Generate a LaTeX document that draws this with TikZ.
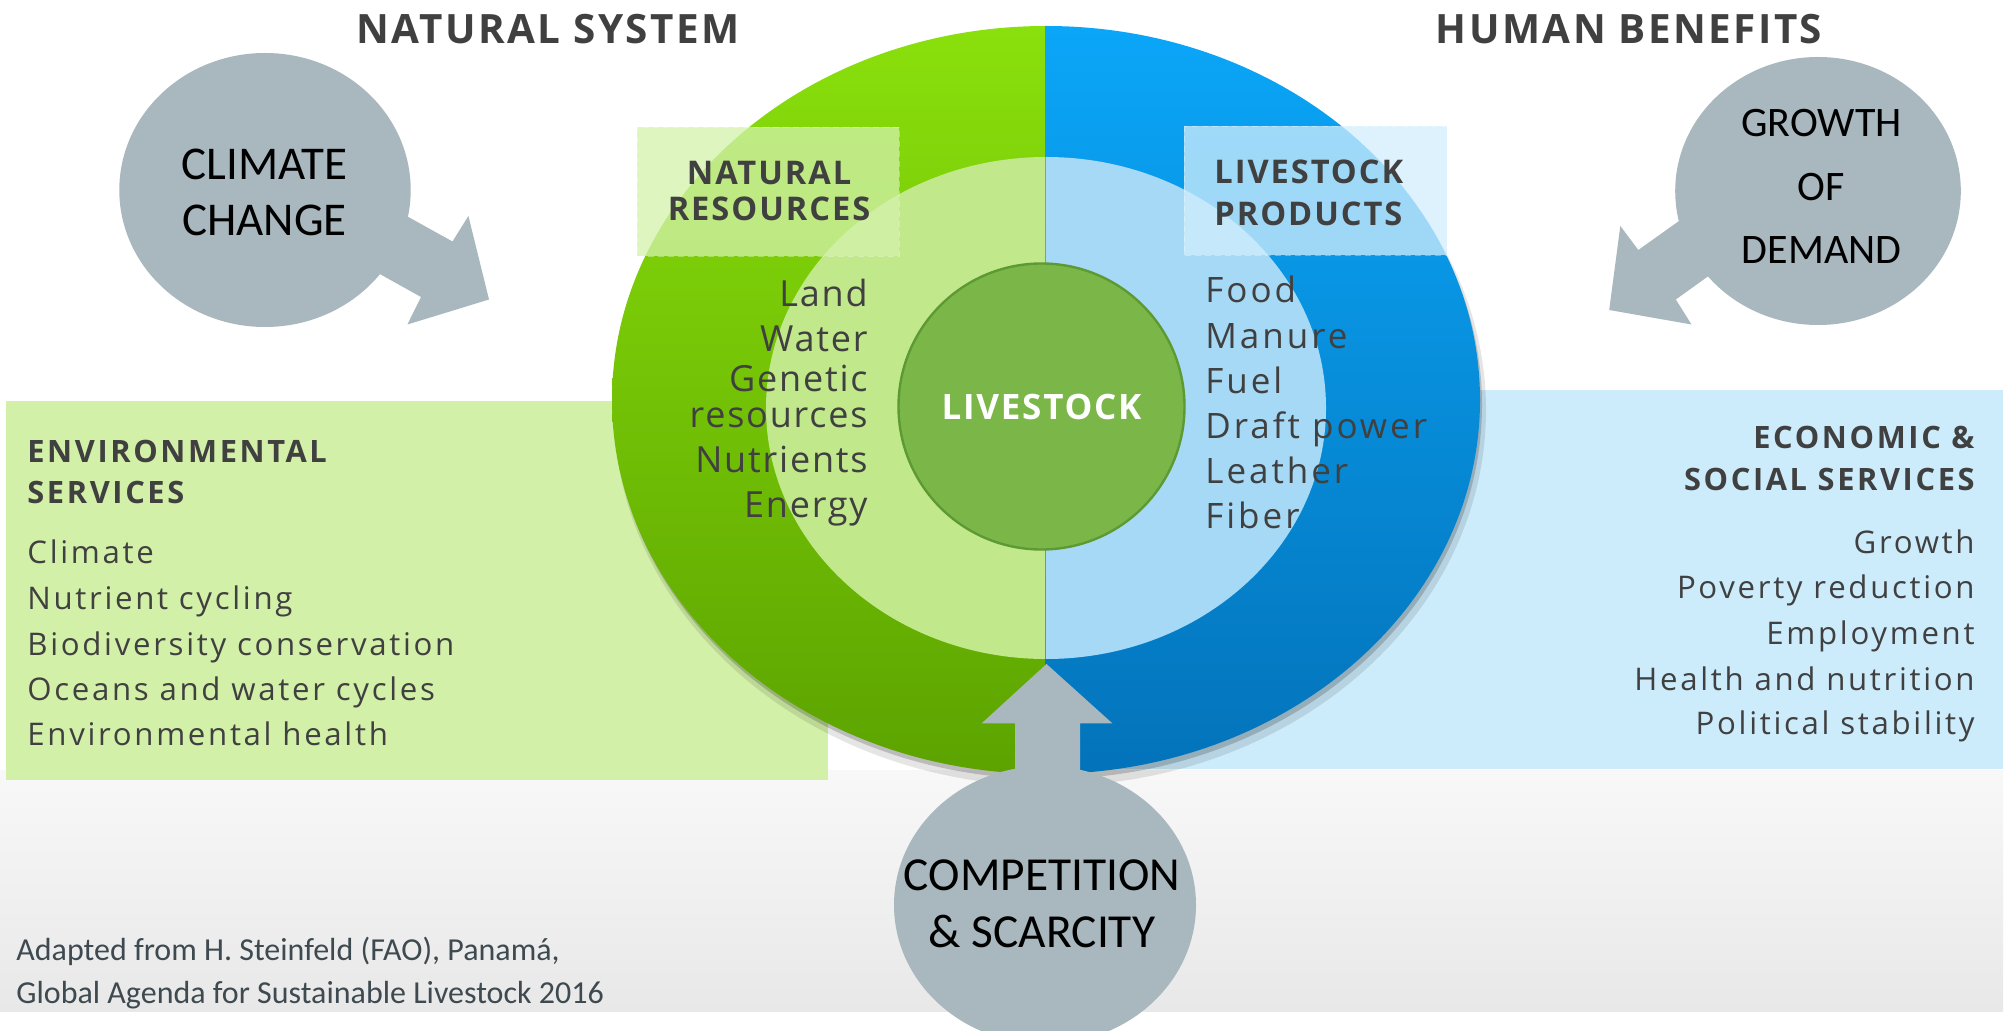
\documentclass[tikz,border=0pt]{standalone}
\usepackage{fontspec}
\setmainfont{Open Sans}
\newfontfamily\bubblefont{Carlito}
\newfontfamily\listfont[LetterSpace=8.6]{Open Sans}
\newfontfamily\ringfont[LetterSpace=5]{Open Sans}
\newfontfamily\prodfont[LetterSpace=8.5]{Open Sans}
\newfontfamily\headfont[LetterSpace=8.5]{Open Sans}
\newfontfamily\tagfont[LetterSpace=6]{Open Sans}
\newfontfamily\bigheadfont[LetterSpace=6]{Open Sans}
\usetikzlibrary{positioning,shapes.geometric}

\definecolor{txtgray}{HTML}{404040}
\definecolor{creditgray}{HTML}{3E4A50}
\definecolor{bubblegray}{HTML}{A8B8BE}
\definecolor{bandtop}{HTML}{F8F8F8}
\definecolor{bandbot}{HTML}{E8E8E8}
\definecolor{grtop}{HTML}{8AE00C}
\definecolor{grbot}{HTML}{5CA300}
\definecolor{bltop}{HTML}{0BA6F8}
\definecolor{blbot}{HTML}{0373BA}
\definecolor{ringgreen}{HTML}{C1E98B}
\definecolor{ringblue}{HTML}{A6D9F6}
\definecolor{hubgreen}{HTML}{7AB648}
\definecolor{hubedge}{HTML}{5E9A34}
\definecolor{envgreen}{HTML}{D2F0A8}
\definecolor{ecoblue}{HTML}{CCECFC}
\definecolor{nrfill}{HTML}{D4F2AC}
\definecolor{lpfill}{HTML}{D2EEFD}

\tikzset{
  headline/.style={font=\bigheadfont\bfseries\fontsize{20.2}{24}\selectfont, text=txtgray, inner sep=0, anchor=base},
  bubble/.style={ellipse, fill=bubblegray, inner sep=0},
  bubbletext/.style={inner sep=0, align=center, text=black},
  taghead/.style={font=\tagfont\bfseries\fontsize{16.3}{17.85}\selectfont, text=txtgray, inner sep=0, align=center},
  svchead/.style={font=\headfont\bfseries\fontsize{15.4}{20}\selectfont, text=txtgray, inner sep=0},
  svcitem/.style={font=\listfont\fontsize{15.6}{20}\selectfont, text=txtgray, inner sep=0},
  ringitem/.style={font=\ringfont\fontsize{18}{22}\selectfont, text=txtgray, inner sep=0},
  credit/.style={font=\bubblefont\fontsize{16}{20}\selectfont, text=creditgray, inner sep=0, anchor=base west}
}

\begin{document}
\begin{tikzpicture}[x=0.5pt,y=0.5pt]
    \useasboundingbox (0,0) rectangle (2012,-1031);
    \fill[white] (0,0) rectangle (2012,-1031);

    % Grey footer band
    \shade[top color=bandtop, bottom color=bandbot] (0,-770) rectangle (2003,-1011);

    % Service panels behind the circle
    \fill[envgreen] (6,-401) rectangle (828,-780);
    \fill[ecoblue] (1080,-390) rectangle (2003,-769);

    % Shadow of the big circle
    \fill[black, opacity=0.10] (1050,-410) ellipse [x radius=436, y radius=376];
    \fill[black, opacity=0.18] (1048,-405) ellipse [x radius=434, y radius=374];

    % Outer ring: natural half and human half
    \begin{scope}
        \clip (600,0) rectangle (1046,-800);
        \shade[top color=grtop, bottom color=grbot] (1046,-400) ellipse [x radius=434, y radius=374];
        \fill[ringgreen] (1046,-408) ellipse [x radius=280, y radius=251];
    \end{scope}
    \begin{scope}
        \clip (1045.5,0) rectangle (1500,-800);
        \shade[top color=bltop, bottom color=blbot] (1046,-400) ellipse [x radius=434, y radius=374];
        \fill[ringblue] (1046,-408) ellipse [x radius=280, y radius=251];
    \end{scope}

    % Tag boxes
    \fill[nrfill, opacity=0.75] (637,-127) rectangle (899,-256);
    \draw[white, densely dashed, opacity=0.35, line width=0.3pt] (637,-127) rectangle (899,-256);
    \fill[lpfill, opacity=0.75] (1184,-126) rectangle (1447,-255);
    \draw[white, densely dashed, opacity=0.35, line width=0.3pt] (1184,-126) rectangle (1447,-255);
    \node[taghead] (nrtag) at (769,-191) {NATURAL\\RESOURCES};
    \node[taghead, align=left, anchor=west, font=\tagfont\bfseries\fontsize{16.3}{20.75}\selectfont] (lptag) at (1214,-193) {LIVESTOCK\\PRODUCTS};

    % Centre
    \node[circle, fill=hubgreen, draw=hubedge, line width=1.2pt, minimum size=143pt, inner sep=0,
          text=white, font=\ringfont\bfseries\fontsize{17.5}{20}\selectfont] (livestock) at (1041.5,-406.5) {LIVESTOCK};

    % Ring contents
    \foreach \txt/\yy [count=\i] in {Land/307, Water/352, Genetic/392, resources/428, Nutrients/473, Energy/517}
        \node[ringitem, anchor=base east] (res\i) at (868,-\yy) {\txt};
    \foreach \txt/\yy [count=\i] in {Food/303, Manure/349, Fuel/394, Draft power/439, Leather/484, Fiber/529}
        \node[ringitem, anchor=base west, font=\prodfont\fontsize{17.5}{22}\selectfont] (prod\i) at (1205,-\yy) {\txt};

    % Titles
    \node[headline] (natsys) at (548,-44) {NATURAL SYSTEM};
    \node[headline] (humben) at (1629,-44) {HUMAN BENEFITS};

    % Environmental services
    \node[svchead, anchor=base west] (envh1) at (27,-463) {ENVIRONMENTAL};
    \node[svchead, anchor=base west] (envh2) at (27,-504) {SERVICES};
    \foreach \txt/\yy [count=\i] in {Climate/564, Nutrient cycling/610, Biodiversity conservation/655, Oceans and water cycles/700, Environmental health/745}
        \node[svcitem, anchor=base west] (env\i) at (27,-\yy) {\txt};

    % Economic and social services
    \node[svchead, anchor=base east] (ecoh1) at (1975,-449) {ECONOMIC \&};
    \node[svchead, anchor=base east] (ecoh2) at (1975,-491) {SOCIAL SERVICES};
    \foreach \txt/\yy [count=\i] in {Growth/553, Poverty reduction/598, Employment/644, Health and nutrition/690, Political stability/734}
        \node[svcitem, anchor=base east] (eco\i) at (1975,-\yy) {\txt};

    % Drivers
    \fill[bubblegray] (373.7,-197.8) -- (408.7,-217.2) -- (452.5,-241.5) -- (468.4,-216) -- (489,-299.5)
        -- (407.4,-324.5) -- (421,-297) -- (380.3,-274.3) -- (345.5,-254.2) -- cycle;
    \node[bubble, minimum width=145.7pt, minimum height=137pt] (climate) at (265,-190) {};
    \node[bubbletext, font=\bubblefont\fontsize{23.5}{28}\selectfont] (climatetext) at (264.5,-192) {CLIMATE\\CHANGE};

    \fill[bubblegray] (1710,-197) -- (1678.3,-221.5) -- (1638.3,-250) -- (1620.3,-226) -- (1609.2,-310)
        -- (1691.5,-324.5) -- (1675.8,-299.5) -- (1708.5,-276) -- (1741,-251.6) -- cycle;
    \node[bubble, minimum width=142.8pt, minimum height=134pt] (demand) at (1818,-191) {};
    \node[bubbletext, font=\bubblefont\fontsize{21}{31.7}\selectfont] (demandtext) at (1821.5,-186.5) {GROWTH\\OF\\DEMAND};

    \fill[bubblegray] (1015,-800) -- (1015,-723.3) -- (981.7,-723.3) -- (1046.5,-664) -- (1112.3,-723.3)
        -- (1080,-723.3) -- (1080,-800) -- cycle;
    \node[bubble, minimum width=151pt, minimum height=139pt] (scarcity) at (1045,-905) {};
    \node[bubbletext, font=\bubblefont\fontsize{23.7}{28.3}\selectfont] (scarcitytext) at (1042,-903.5) {COMPETITION\\\& SCARCITY};

    % Source
    \node[credit] (src1) at (16,-960) {Adapted from H. Steinfeld (FAO), Panamá,};
    \node[credit] (src2) at (16,-1003) {Global Agenda for Sustainable Livestock 2016};
\end{tikzpicture}
\end{document}
